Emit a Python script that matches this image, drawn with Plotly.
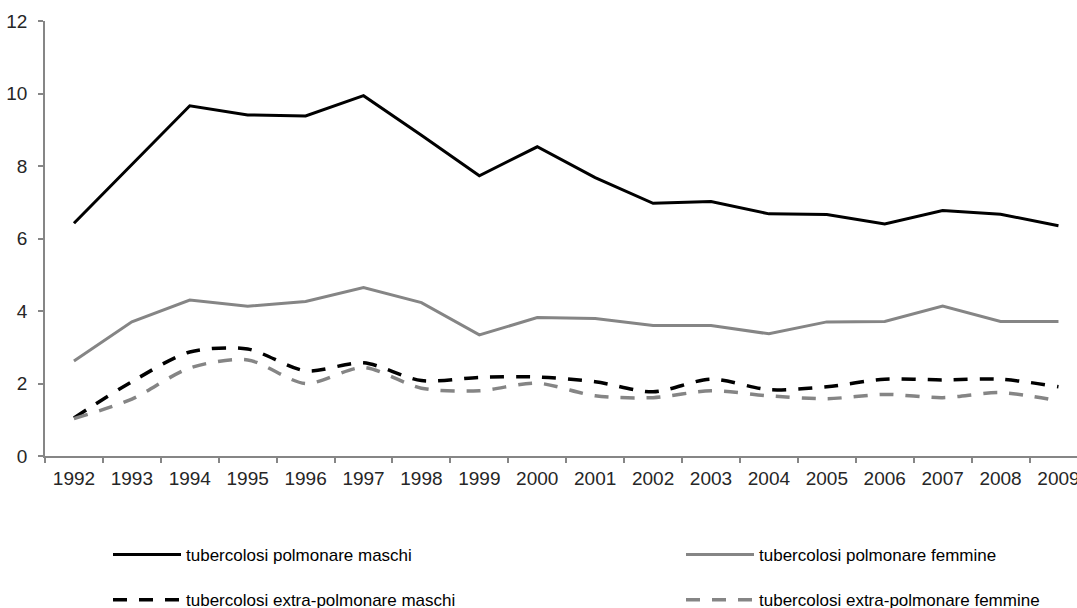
import plotly.graph_objects as go

years = [str(y) for y in range(1992, 2010)]

polm_maschi = [6.42, 8.05, 9.66, 9.41, 9.38, 9.94, 8.85, 7.73, 8.53, 7.68, 6.97,
               7.02, 6.68, 6.66, 6.40, 6.77, 6.67, 6.35]
polm_femmine = [2.62, 3.70, 4.30, 4.13, 4.26, 4.65, 4.23, 3.34, 3.82, 3.79, 3.60,
                3.60, 3.37, 3.70, 3.71, 4.14, 3.71, 3.71]
extra_maschi = [1.05, 2.05, 2.87, 2.95, 2.35, 2.57, 2.08, 2.17, 2.18, 2.05, 1.77,
                2.12, 1.83, 1.91, 2.12, 2.10, 2.12, 1.91]
extra_femmine = [1.03, 1.57, 2.43, 2.65, 2.00, 2.44, 1.87, 1.80, 2.01, 1.66, 1.61,
                 1.80, 1.66, 1.58, 1.70, 1.61, 1.75, 1.52]

names = ["tubercolosi polmonare maschi", "tubercolosi polmonare femmine",
         "tubercolosi extra-polmonare maschi", "tubercolosi extra-polmonare femmine"]

BLACK = "#000000"
GRAY = "#858585"
FONT = "Liberation Sans, Arial, sans-serif"

fig = go.Figure()
fig.add_trace(go.Scatter(x=years, y=polm_maschi, name=names[0], mode="lines",
                         line=dict(color=BLACK, width=3), legend="legend", legendgroup="a"))
fig.add_trace(go.Scatter(x=years, y=extra_maschi, name=names[2], mode="lines",
                         line=dict(color=BLACK, width=3.5, dash="14px,12px", shape="spline", smoothing=0.8),
                         legend="legend", legendgroup="b"))
fig.add_trace(go.Scatter(x=years, y=polm_femmine, name=names[1], mode="lines",
                         line=dict(color=GRAY, width=3), legend="legend2", legendgroup="c"))
fig.add_trace(go.Scatter(x=years, y=extra_femmine, name=names[3], mode="lines",
                         line=dict(color=GRAY, width=3.5, dash="14px,12px", shape="spline", smoothing=0.8),
                         legend="legend2", legendgroup="d"))

axis_common = dict(showline=True, linecolor="#868686", linewidth=1.5, ticks="outside",
                   ticklen=5, tickcolor="#868686", tickwidth=1.5, showgrid=False,
                   zeroline=False, automargin=False,
                   tickfont=dict(family=FONT, size=19, color="#262626"))

leg_common = dict(orientation="v", traceorder="grouped", tracegroupgap=20,
                  font=dict(family=FONT, size=17, color="#000000"), itemwidth=68,
                  bgcolor="rgba(0,0,0,0)", yanchor="top", xanchor="left")

fig.update_layout(
    width=1077, height=608,
    template="none",
    paper_bgcolor="white", plot_bgcolor="white",
    margin=dict(l=45, r=0, t=21, b=152, autoexpand=False),
    xaxis=dict(type="category", range=[-0.5, 17.32], tickson="boundaries",
               ticklabelstandoff=4, **axis_common),
    yaxis=dict(range=[0, 12], dtick=2, tick0=0, ticklabelstandoff=7, **axis_common),
    legend=dict(x=(108 - 45) / 1032, y=(456 - 537) / 435, **leg_common),
    legend2=dict(x=(681 - 45) / 1032, y=(456 - 537) / 435, **leg_common),
    showlegend=True,
)

fig.write_html("out.html", config={"displayModeBar": False},
               post_script="document.body.style.margin='0';document.body.style.overflow='hidden';")
